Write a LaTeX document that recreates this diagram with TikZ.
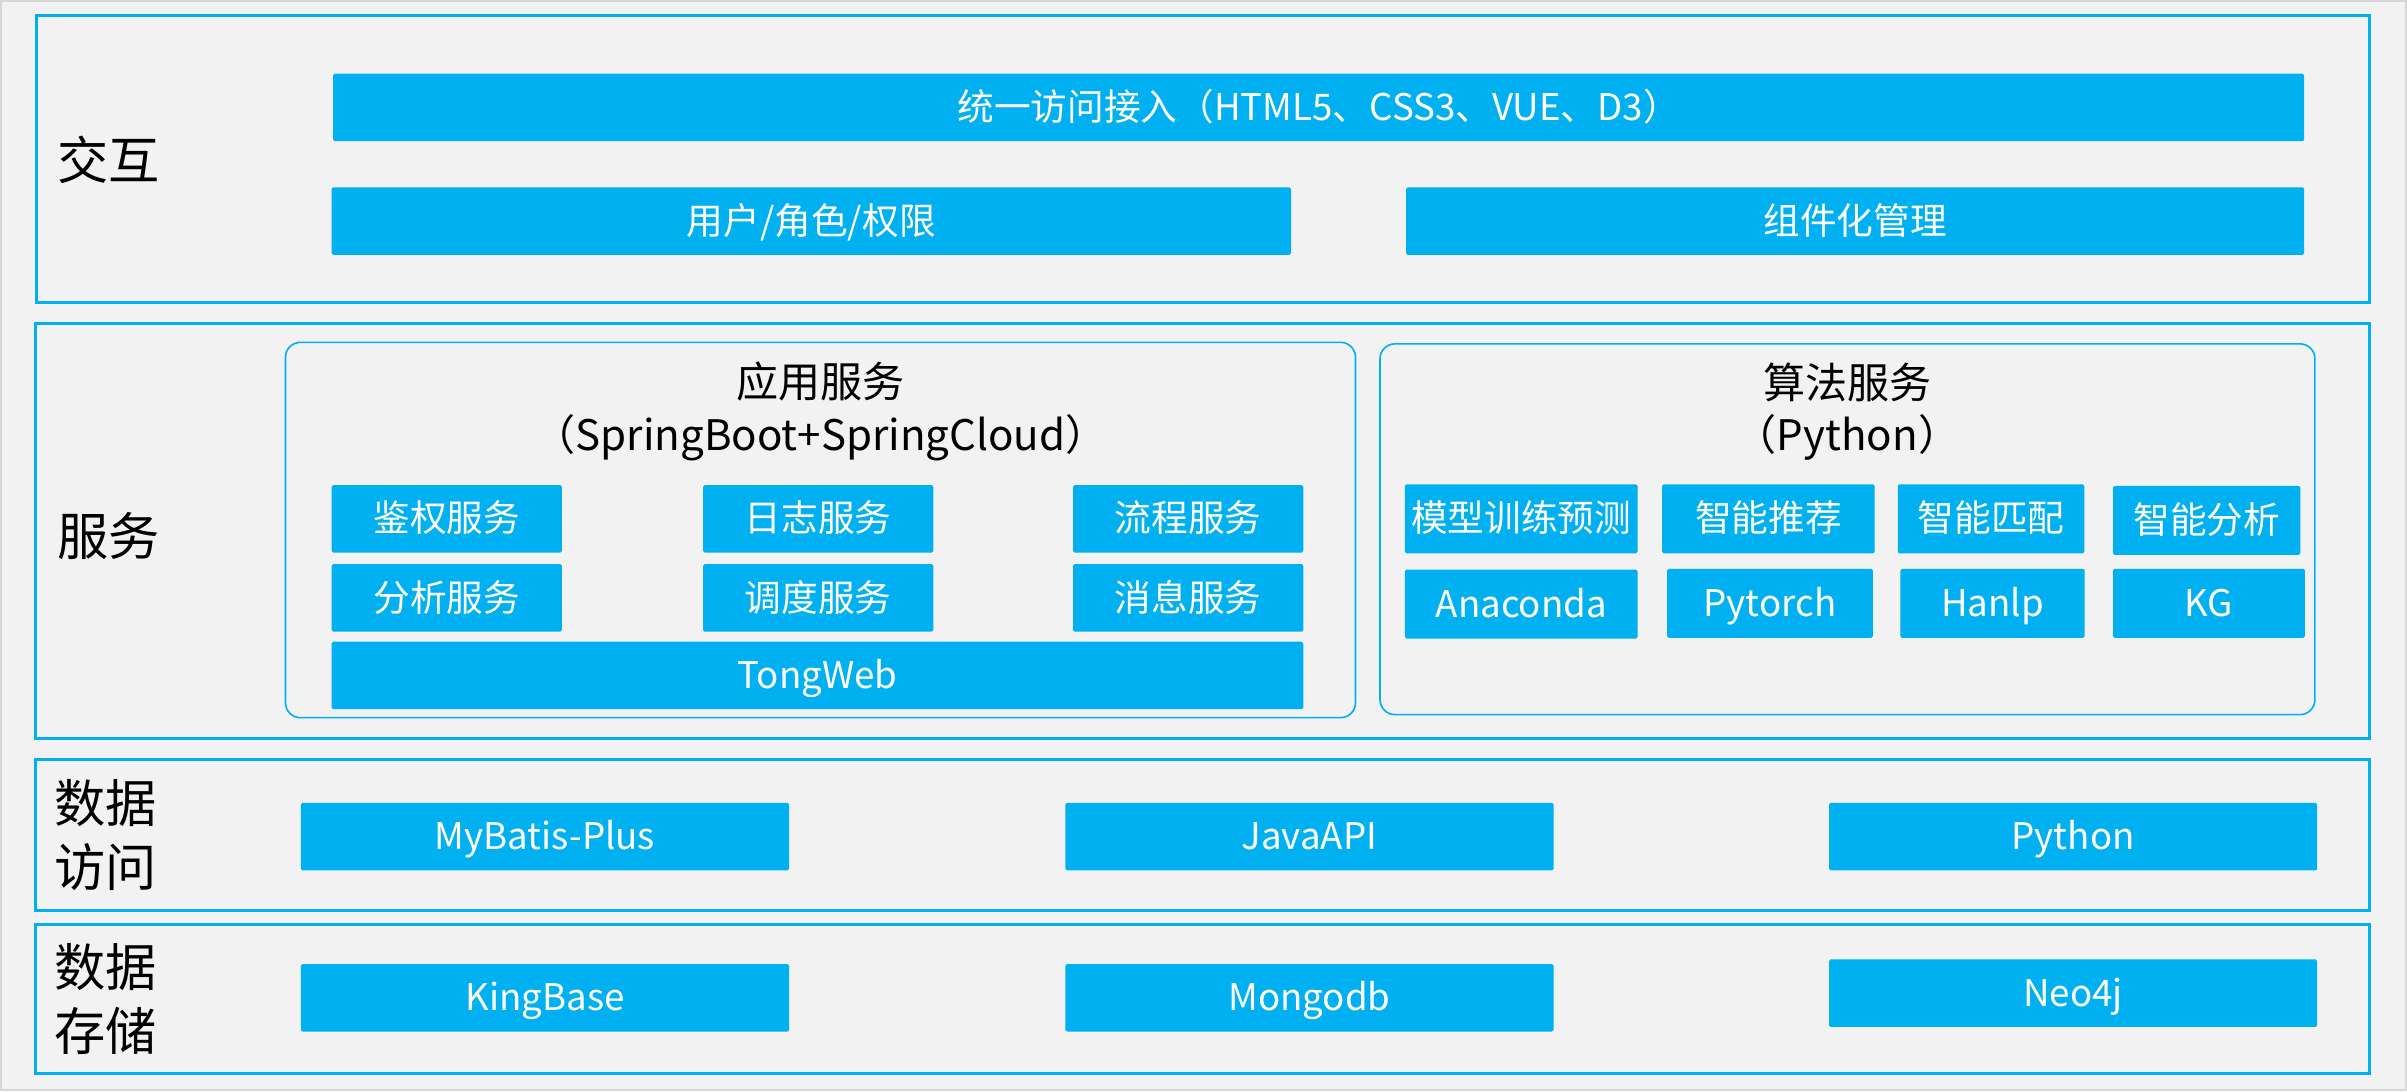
\documentclass[tikz,border=0pt]{standalone}
\usepackage{fontspec}
\setmainfont{Noto Sans CJK SC}
\definecolor{skyblue}{RGB}{0,176,240}
\definecolor{paper}{RGB}{242,242,242}
\definecolor{edge}{RGB}{215,215,215}

\begin{document}
\begin{tikzpicture}[x=0.02cm, y=-0.02cm,
    layer/.style={draw=skyblue, line width=1.1pt},
    group/.style={draw=skyblue, line width=0.6pt, rounded corners=5.5pt},
    wd/.style={minimum width=#1*0.02cm},
    blk/.style={fill=skyblue, text=white, rounded corners=0.6pt, inner sep=0pt,
        text height=1em, text depth=0.03em,
        minimum height=0.88cm, font=\fontsize{13.6}{16}\selectfont},
    tag/.style={align=left, inner sep=0pt, font=\fontsize{19}{23.8}\selectfont},
    title/.style={align=center, inner sep=0pt, font=\fontsize{15.6}{19.3}\selectfont}]
        % Background
        \useasboundingbox (0,0) rectangle (1568,711);
        \fill [paper] (0,0) rectangle (1568,711);
        \draw [edge, line width=0.8pt] (0.7,0.7) rectangle (1567.3,710.3);
        % Interaction
        \draw [layer] (23.5,10) rectangle (1543.5,197);
        \node [tag] (lbl1) at (71,104) {交互};
        \node [blk, wd=1284] (entry) at (859,70) {统一访问接入（HTML5、CSS3、VUE、D3）};
        \node [blk, wd=625] (role) at (528.5,144) {用户/角色/权限};
        \node [blk, wd=585] (comp) at (1208.5,144) {组件化管理};
        % Services
        \draw [layer] (23,211) rectangle (1543.5,481);
        \node [tag] (lbl2) at (71,349) {服务};
        \draw [group] (186,223) rectangle (883,467.5);
        \draw [group] (899,224) rectangle (1508,465.5);
        \node [title] (app) at (534.5,268) {应用服务\\（SpringBoot+SpringCloud）};
        \node [title] (algo) at (1203.5,268) {算法服务\\（Python）};
        \foreach \t/\x/\y [count=\i] in {鉴权服务/291/338, 日志服务/533/338, 流程服务/774/338,
                                         分析服务/291/389.5, 调度服务/533/389.5, 消息服务/774/389.5}
        {
        \node [blk, wd=150] (svc\i) at (\x,\y) {\t};
        }
        \node [blk, wd=633] (tongweb) at (532.5,440) {TongWeb};
        \foreach \t/\x/\y/\w [count=\i] in {模型训练预测/991/338/151.5, 智能推荐/1152/338/138.5,
                                            智能匹配/1297/338/121.5, 智能分析/1437.5/339/122,
                                            Anaconda/991/393.5/151.5, Pytorch/1153/393/134,
                                            Hanlp/1298/393/120, KG/1439/393/125}
        {
        \node [blk, wd=\w, minimum height=0.9cm] (alg\i) at (\x,\y) {\t};
        }
        % Data access
        \draw [layer] (23,494.5) rectangle (1543.5,593);
        \node [tag] (lbl3) at (69,544) {数据\\访问};
        \foreach \t/\x [count=\i] in {MyBatis-Plus/355, JavaAPI/853, Python/1350.5}
        {
        \node [blk, wd=318] (acc\i) at (\x,545) {\t};
        }
        % Data storage
        \draw [layer] (23,602) rectangle (1543.5,699);
        \node [tag] (lbl4) at (69,651) {数据\\存储};
        \foreach \t/\x/\y [count=\i] in {KingBase/355/650, Mongodb/853/650, Neo4j/1350.5/647}
        {
        \node [blk, wd=318] (db\i) at (\x,\y) {\t};
        }
\end{tikzpicture}
\end{document}
